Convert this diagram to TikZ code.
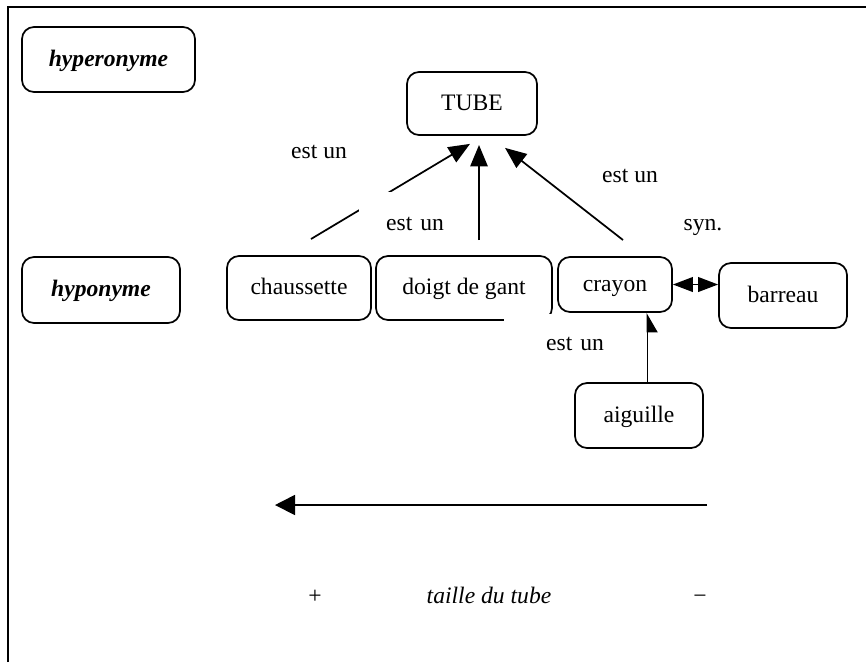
\documentclass[tikz,border=0pt]{standalone}
\usepackage{fontspec}
\setmainfont{Liberation Serif}
\usetikzlibrary{arrows.meta,calc}

\newcommand{\diagfont}{\fontsize{17.7pt}{21pt}\selectfont}

\tikzset{every picture/.style={line width=1.3pt}}
\tikzset{
	termbox/.style={draw, rounded corners=9pt, inner sep=0pt, text height=12.75pt, text depth=3pt, font=\diagfont},
	levelbox/.style={termbox, font=\diagfont\bfseries\itshape},
	relabel/.style={fill=white, inner sep=0pt, anchor=base, font=\diagfont},
	isa/.style={-{Triangle[length=16pt,width=13pt]}},
	isasmall/.style={line width=0.75pt, -{Triangle[length=14pt,width=16pt,right]}},
	synarrow/.style={{Triangle[length=15pt,width=11pt]}-{Triangle[length=15pt,width=11pt]}},
	scalearrow/.style={-{Triangle[length=15pt,width=15pt]}}
}

\begin{document}
\begin{tikzpicture}[x=0.75pt,y=0.75pt,yscale=-1,xscale=1]
		\useasboundingbox (0,0) rectangle (866,662);
		
		%Straight Lines: frame
		\draw [line width=1.5pt] (8,662) -- (8,7) -- (866,7) ;
		
		%Shape: Rounded Rect [levels]
		\node [levelbox, minimum width=129.75pt, minimum height=48.75pt] (hyper) at (108.5,59.5) {hyperonyme};
		\node [levelbox, minimum width=118.5pt, minimum height=49.5pt] (hypo) at (101,290) {hyponyme};
		%Shape: Rounded Rect [terms]
		\node [termbox, minimum width=97.5pt, minimum height=47.25pt] (tube) at (472,103.5) {TUBE};
		\node [termbox, minimum width=108pt, minimum height=48pt] (chaus) at (299,288) {chaussette};
		\node [termbox, minimum width=132pt, minimum height=48pt] (doigt) at (464,288) {doigt de gant};
		\node [termbox, minimum width=85.5pt, minimum height=41.25pt] (crayon) at (615,284.5) {crayon};
		\node [termbox, minimum width=96pt, minimum height=48.75pt] (barreau) at (783,295.5) {barreau};
		\node [termbox, minimum width=96pt, minimum height=48.75pt] (aiguille) at (639,415.5) {aiguille};
		
		%Straight Lines [est un -> TUBE]
		\coordinate (chaus up) at (311,239);
		\coordinate (doigt up) at (479,240);
		\coordinate (crayon up) at (623,240);
		\draw [isa] (chaus up) -- ($(tube.south)+(-2,8)$) ;
		\draw [isa] (doigt up) -- (doigt up |- 0,145) ;
		\draw [isa] (crayon up) -- ($(tube.south)+(33,12)$) ;
		%Straight Lines [aiguille -> crayon]
		\coordinate (aig top) at ($(aiguille.north)+(8,0)$);
		\draw [isasmall] (aig top) -- (aig top |- crayon.south) ;
		%Straight Lines [synonymes]
		\draw [synarrow] (crayon.east) -- (crayon.east -| barreau.west) ;
		%Straight Lines [size axis]
		\coordinate (size big) at (275,505);
		\coordinate (size small) at (707,505);
		\draw [scalearrow] (size small) -- (size big) ;
		
		% Text Node
		\node [relabel] (isa chaus) at (319,158) {est un};
		% Text Node
		\node [relabel, anchor=north west, text width=63.75pt, align=right, text height=29.25pt, text depth=3pt] (isa doigt) at (358,191) {est un};
		% Text Node
		\node [relabel] (isa crayon) at (630,182) {est un};
		% Text Node
		\node [relabel] (syn) at (703,230) {syn.};
		% Text Node
		\node [relabel, anchor=north west, text width=75pt, align=right, text height=27.4pt, text depth=3pt] (isa aig) at (503,313.5) {est un};
		% Text Node
		\node [relabel] (plus) at (315,603) {+};
		\node [relabel, font=\diagfont\itshape] (taille) at (489,603) {taille du tube};
		\node [relabel] (minus) at (700,603) {−};
		
\end{tikzpicture}
\end{document}
